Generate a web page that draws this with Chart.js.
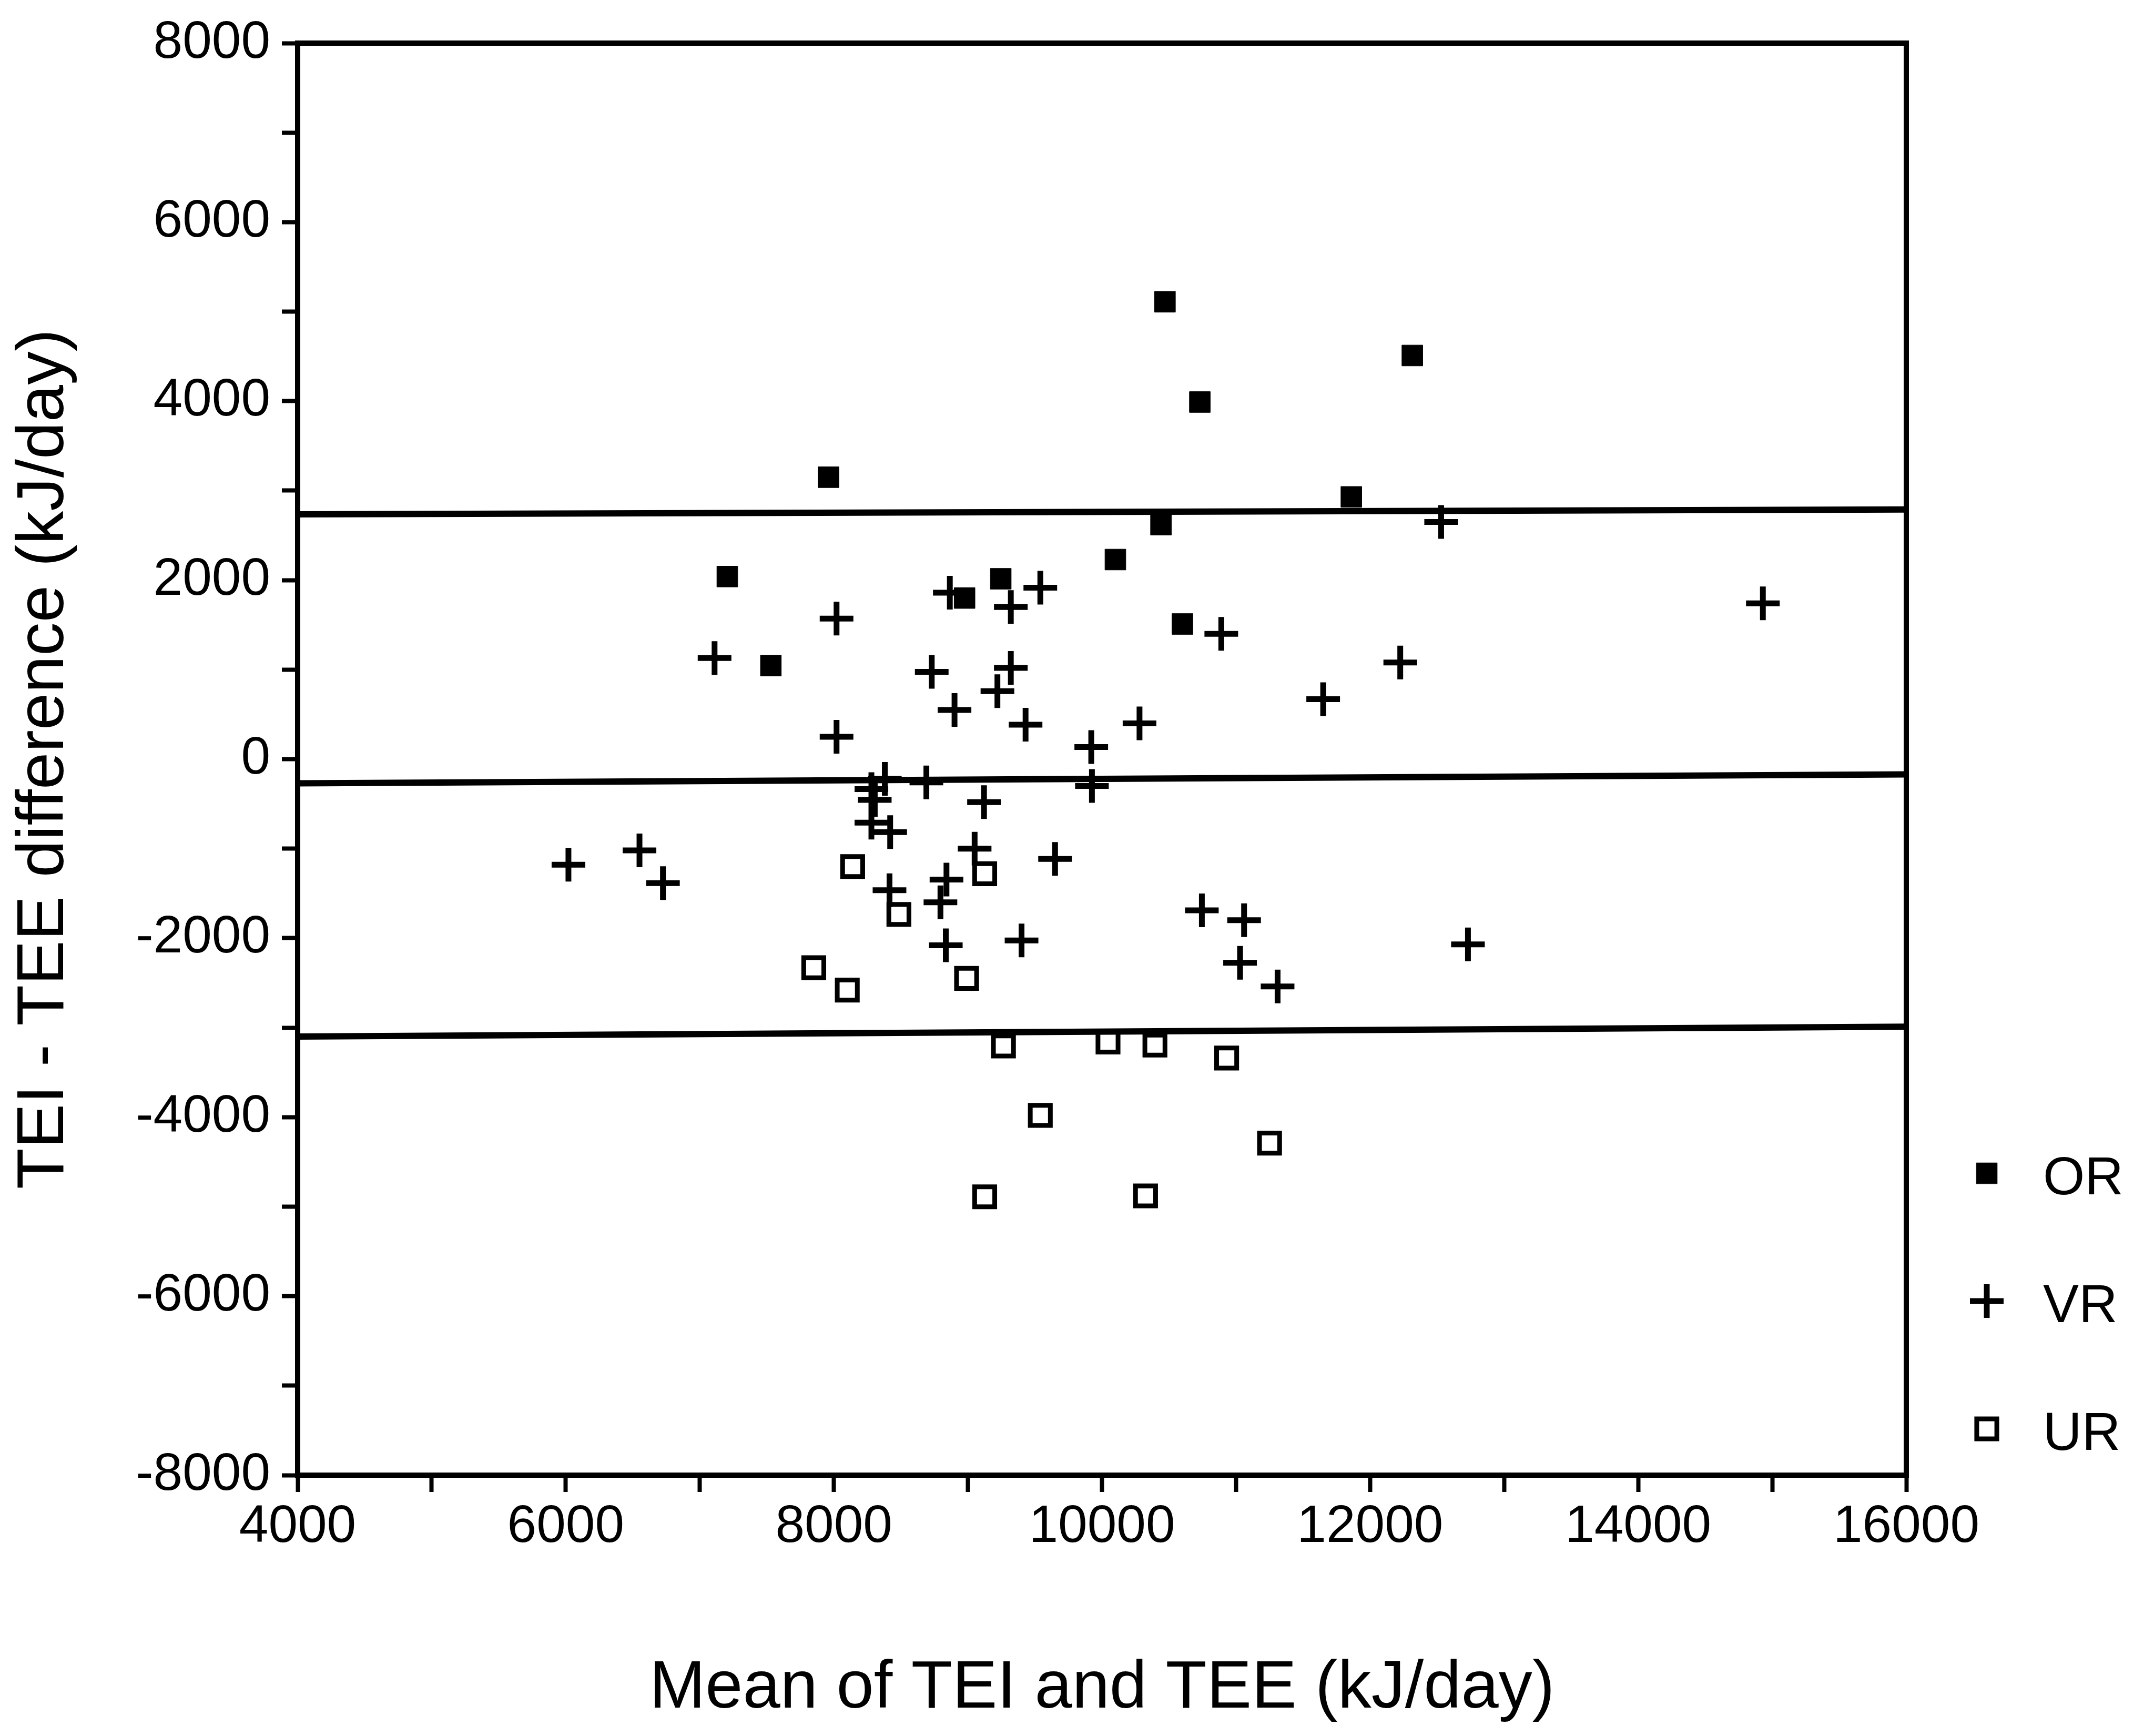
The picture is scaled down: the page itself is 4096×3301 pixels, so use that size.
<!DOCTYPE html>
<html lang="en">
<head>
<meta charset="UTF-8">
<title>TEI - TEE difference</title>
<script src="https://cdn.jsdelivr.net/npm/chart.js"></script>
<style>
    html, body { margin: 0; padding: 0; background: #fff; }
    canvas { display: block; }
</style>
</head>
<body>
<canvas id="grafico" width="4096" height="3301"></canvas>
<script>
const grupos = ["OR", "VR", "UR"];

// OR: filled squares
const orX = [10470, 12315, 10730, 7960, 11860, 10440, 10100, 7205, 9245, 8975, 10600, 7530];
const orY = [5110, 4510, 3990, 3150, 2930, 2620, 2230, 2040, 2015, 1800, 1510, 1045];

// VR: crosses
const vrX = [14930, 12530, 12225, 11650, 10890, 10280, 9920, 9925, 9540, 9320, 8865, 9320, 9220, 8900,
             9430, 8730, 8020, 7110, 8020, 8380, 8690, 8280, 8305, 8280, 8420, 9120, 9050, 9650,
             8415, 8840, 8795, 8835, 9400, 10745, 11060, 11030, 11310, 12730, 6020, 6550, 6725];
const vrY = [1740, 2650, 1080, 670, 1400, 400, 135, -300, 1915, 1700, 1860, 1020, 760, 550,
             385, 975, 1570, 1130, 250, -220, -260, -335, -455, -710, -815, -480, -1000, -1115,
             -1465, -1345, -1600, -2080, -2025, -1690, -1800, -2275, -2540, -2070, -1180, -1020, -1385];

// UR: open squares
const urX = [8140, 9125, 8485, 7850, 8100, 8990, 9265, 10045, 10395, 10930, 9540, 11250, 9125, 10325];
const urY = [-1200, -1280, -1735, -2330, -2580, -2450, -3205, -3160, -3195, -3340, -3980, -4290, -4890, -4880];

// mean and limits of agreement (ends at x = 4000 and 16000)
const linhaX = [4000, 16000];
const limiteSupY = [2735, 2790];
const mediaY = [-270, -170];
const limiteInfY = [-3100, -2990];

const rotulosX = [4000, 6000, 8000, 10000, 12000, 14000, 16000];
const rotulosY = [-8000, -6000, -4000, -2000, 0, 2000, 4000, 6000, 8000];

const fonte = "'Liberation Sans', Arial, sans-serif";

function pontos(xs, ys) {
    return xs.map((x, i) => ({ x: x, y: ys[i] }));
}

function linha(ys) {
    return {
        data: pontos(linhaX, ys),
        showLine: true,
        borderColor: '#000',
        borderWidth: 12,
        pointRadius: 0,
        fill: false
    };
}

const moldura = {
    id: 'moldura',
    afterDraw(chart) {
        const { ctx, chartArea: a } = chart;
        ctx.save();
        ctx.strokeStyle = '#000';
        ctx.lineWidth = 10;
        ctx.beginPath();
        ctx.moveTo(a.left - 5, a.top);
        ctx.lineTo(a.right, a.top);
        ctx.lineTo(a.right, a.bottom + 5);
        ctx.stroke();
        ctx.restore();
    }
};

const legendaLateral = {
    id: 'legendaLateral',
    afterDraw(chart) {
        const { ctx, chartArea: a } = chart;
        const xMarca = a.right + 153;
        const xTexto = a.right + 260;
        ctx.save();
        chart.data.datasets.forEach(ds => {
            const i = grupos.indexOf(ds.label);
            if (i < 0) return;
            const y = a.bottom - 574 + i * 243;
            ctx.fillStyle = ds.backgroundColor;
            ctx.strokeStyle = ds.borderColor;
            ctx.lineWidth = ds.borderWidth;
            Chart.helpers.drawPoint(ctx, {
                pointStyle: ds.pointStyle,
                radius: ds.pointRadius,
                borderWidth: ds.borderWidth,
                rotation: 0
            }, xMarca, y);
            ctx.fillStyle = '#000';
            ctx.font = `102px ${fonte}`;
            ctx.textAlign = 'left';
            ctx.textBaseline = 'middle';
            ctx.fillText(ds.label, xTexto, y + 12);
        });
        ctx.restore();
    }
};

new Chart(document.getElementById('grafico'), {
    type: 'scatter',
    data: {
        datasets: [
            linha(limiteSupY),
            linha(mediaY),
            linha(limiteInfY),
            {
                label: 'OR',
                data: pontos(orX, orY),
                pointStyle: 'rect',
                pointRadius: 28,
                backgroundColor: '#000',
                borderColor: '#000',
                borderWidth: 1
            },
            {
                label: 'VR',
                data: pontos(vrX, vrY),
                pointStyle: 'cross',
                pointRadius: 32,
                backgroundColor: '#000',
                borderColor: '#000',
                borderWidth: 11
            },
            {
                label: 'UR',
                data: pontos(urX, urY),
                pointStyle: 'rect',
                pointRadius: 27,
                backgroundColor: '#fff',
                borderColor: '#000',
                borderWidth: 9
            }
        ]
    },
    options: {
        responsive: false,
        animation: false,
        events: [],
        layout: { padding: { top: 70, right: 471, bottom: 0, left: 0 } },
        plugins: {
            legend: { display: false },
            tooltip: { enabled: false }
        },
        scales: {
            x: {
                type: 'linear',
                min: 4000,
                max: 16000,
                afterFit: s => { s.height = 496; },
                ticks: {
                    stepSize: 1000,
                    autoSkip: false,
                    maxRotation: 0,
                    padding: 7,
                    color: '#000',
                    font: { family: fonte, size: 100 },
                    callback: v => rotulosX.includes(v) ? String(v) : ''
                },
                grid: { drawOnChartArea: false, drawTicks: true, tickLength: 32, tickWidth: 8, tickColor: '#000' },
                border: { display: true, color: '#000', width: 10 },
                title: {
                    display: true,
                    text: 'Mean of TEI and TEE (kJ/day)',
                    color: '#000',
                    font: { family: fonte, size: 128 },
                    padding: { top: 0, bottom: 12 }
                }
            },
            y: {
                type: 'linear',
                min: -8000,
                max: 8000,
                afterFit: s => { s.width = 566; },
                ticks: {
                    stepSize: 1000,
                    autoSkip: false,
                    padding: 22,
                    color: '#000',
                    font: { family: fonte, size: 100 },
                    callback: v => rotulosY.includes(v) ? String(v) : ''
                },
                grid: { drawOnChartArea: false, drawTicks: true, tickLength: 30, tickWidth: 8, tickColor: '#000' },
                border: { display: true, color: '#000', width: 10 },
                title: {
                    display: true,
                    text: 'TEI - TEE difference (kJ/day)',
                    color: '#000',
                    font: { family: fonte, size: 127 },
                    padding: { top: 9, bottom: 0 }
                }
            }
        }
    },
    plugins: [moldura, legendaLateral]
});
</script>
</body>
</html>
